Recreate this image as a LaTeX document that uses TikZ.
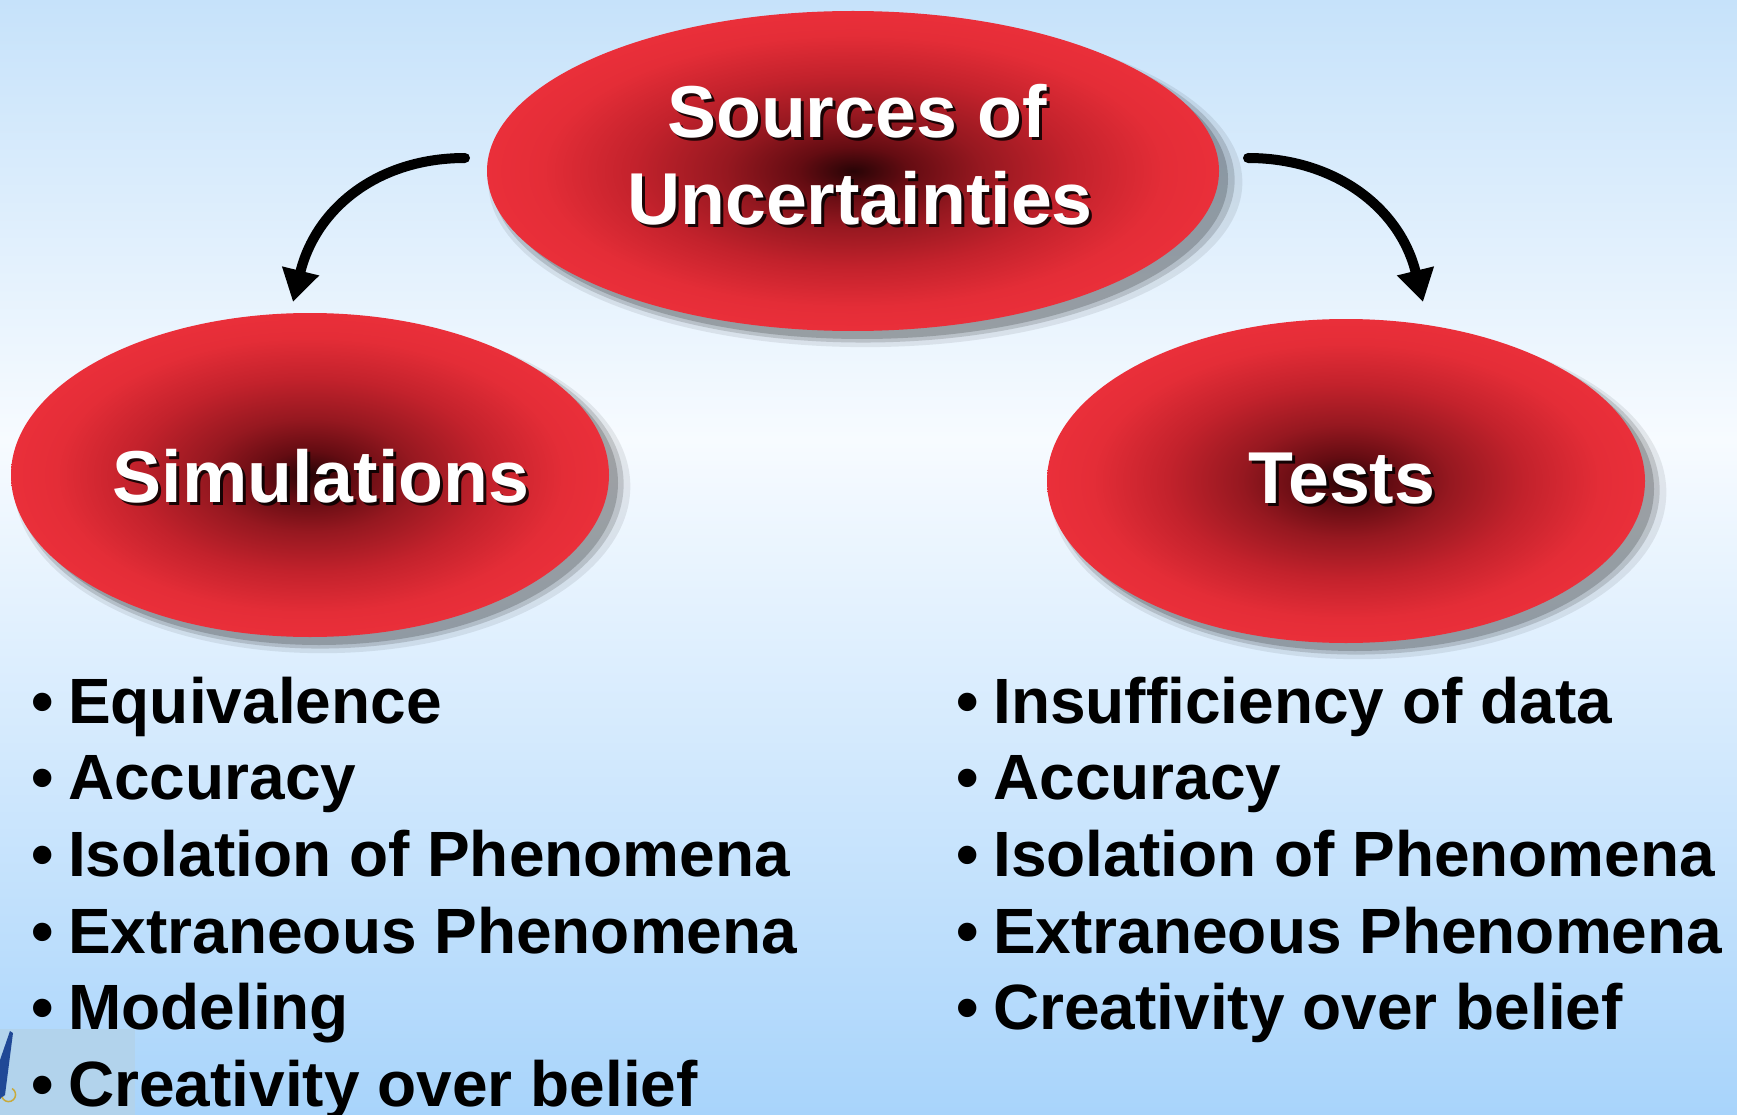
\documentclass[tikz,border=0pt]{standalone}
\usepackage{fontspec}
\setmainfont{Liberation Sans}[Ligatures=NoCommon]
\usetikzlibrary{arrows.meta,shapes.geometric,shadows}
\definecolor{bgtop}{RGB}{198,226,250}
\definecolor{bgmid}{RGB}{247,251,255}
\definecolor{bgbot}{RGB}{168,212,251}
\definecolor{artbg}{RGB}{178,211,236}
\definecolor{artblue}{RGB}{32,72,150}
\definecolor{artgold}{RGB}{200,170,60}
\definecolor{rc0}{RGB}{40,4,6}
\definecolor{rc1}{RGB}{100,12,18}
\definecolor{rc2}{RGB}{150,24,32}
\definecolor{rc3}{RGB}{195,34,44}
\definecolor{rc4}{RGB}{228,45,55}
\definecolor{rc5}{RGB}{234,47,58}
\pgfdeclareradialshading{redglow}{\pgfpoint{0bp}{0bp}}{color(0bp)=(rc0); color(3.75bp)=(rc1); color(8.75bp)=(rc2); color(15bp)=(rc3); color(21.25bp)=(rc4); color(25bp)=(rc5); color(50bp)=(rc5)}
\tikzset{
  ell/.style={ellipse, inner sep=0pt, outer sep=0pt, shading=redglow,
    general shadow={shadow xshift=12pt, shadow yshift=-11pt, shadow scale=1.03, fill=black, opacity=0.08},
    general shadow={shadow xshift=10pt, shadow yshift=-9pt, shadow scale=1.015, fill=black, opacity=0.14},
    general shadow={shadow xshift=9pt, shadow yshift=-8pt, shadow scale=1.0, fill=black, opacity=0.18}},
  title/.style={font=\fontsize{73.5}{86}\selectfont\bfseries, text=white, inner sep=0pt, anchor=base},
  titleshadow/.style={title, text=black, text opacity=0.85},
  item/.style={font=\fontsize{64}{76}\selectfont\bfseries, text=black, inner sep=0pt, anchor=base west},
  conn/.style={line width=10pt, line cap=round, -{Triangle[width=36pt,length=32pt]}}
}
\begin{document}
\begin{tikzpicture}[x=1pt, y=-1pt]
\useasboundingbox (0,0) rectangle (1737,1115);
% background
\shade[top color=bgtop, bottom color=bgmid] (0,0) rectangle (1737,440);
\shade[top color=bgmid, bottom color=bgbot] (0,439) rectangle (1737,1115);
% small corner artifact
\fill[artbg] (0,1029) rectangle (135,1115);
\fill[artblue] (10,1031) -- (13,1033) -- (5,1095) -- (0,1099) -- (0,1060) -- cycle;
\draw[artgold, line width=1.5pt] (2,1097) arc[start angle=160, end angle=-60, radius=7];

% ellipses
\node[ell, minimum width=732pt, minimum height=320pt] (src) at (853,171) {};
\node[ell, minimum width=598pt, minimum height=324pt] (sim) at (310,475) {};
\node[ell, minimum width=598pt, minimum height=324pt] (tst) at (1346,481) {};

% titles
\node[titleshadow] (srcAs) at (860,141) {Sources of};
\node[title] (srcA) at (857,138) {Sources of};
\node[titleshadow] (srcBs) at (863,228) {Uncertainties};
\node[title] (srcB) at (860,225) {Uncertainties};
\node[titleshadow] (simTs) at (324,505) {Simulations};
\node[title] (simT) at (321,502) {Simulations};
\node[titleshadow] (tstTs) at (1345,506) {Tests};
\node[title] (tstT) at (1342,503) {Tests};

% connectors
\coordinate (ls) at (465,158);
\coordinate (le) at (293,302);
\coordinate (rs) at (1248,158);
\coordinate (re) at (1423,302);
\draw[conn] (ls) .. controls (378,158) and (316,208) .. (le);
\draw[conn] (rs) .. controls (1335,158) and (1400,208) .. (re);

% left list
\foreach \t [count=\i from 0] in {Equivalence,Accuracy,Isolation of Phenomena,Extraneous Phenomena,Modeling,Creativity over belief}{
  \node[item] (lb\i) at (31,723+76.7*\i) {•};
  \node[item] (lt\i) at (68,723+76.7*\i) {\t};
}
% right list
\foreach \t [count=\i from 0] in {Insufficiency of data,Accuracy,Isolation of Phenomena,Extraneous Phenomena,Creativity over belief}{
  \node[item] (rb\i) at (956,723+76.7*\i) {•};
  \node[item] (rt\i) at (993,723+76.7*\i) {\t};
}
\end{tikzpicture}
\end{document}
